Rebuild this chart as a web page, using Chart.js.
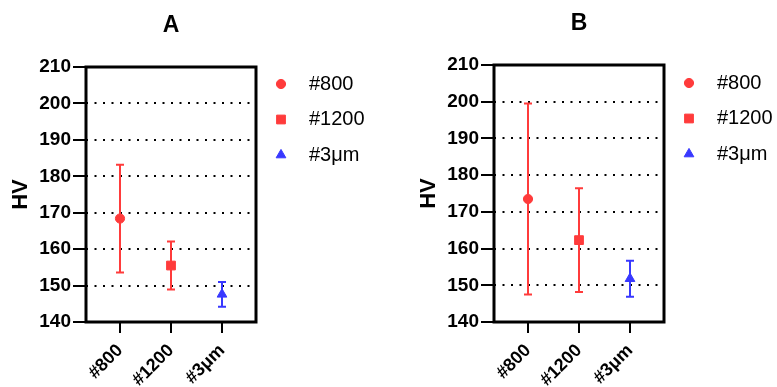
<!DOCTYPE html>
<html lang="en">
<head>
  <meta charset="UTF-8">
  <title>HV</title>
  <script src="https://cdn.jsdelivr.net/npm/chart.js@4.4.0/dist/chart.umd.min.js"></script>
  <style>
    body { margin: 0; background: #fff; }
    .wrap { position: relative; width: 777px; height: 387px; }
    .panel { position: absolute; top: 0; }
  </style>
</head>
<body>
  <div class="wrap">
    <canvas id="chartA" class="panel" width="369" height="387" style="left:0"></canvas>
    <canvas id="chartB" class="panel" width="369" height="387" style="left:408px"></canvas>
  </div>

  <script>
    // data
    const categories = ['#800', '#1200', '#3μm'];
    const yMin = 140;
    const yMax = 210;
    const yStep = 10;

    const meansA = [168.4, 155.5, 147.6];
    const sdA = [14.8, 6.6, 3.4];
    const meansB = [173.5, 162.3, 151.8];
    const sdB = [26.0, 14.1, 4.9];

    const colors = ['#ff3b3b', '#ff3b3b', '#3838ff'];
    const markers = ['circle', 'rect', 'triangle'];
    const markerSize = { circle: 4.6, rect: 6.2, triangle: 5.6 };

    const FONT = "'Liberation Sans', Arial, Helvetica, sans-serif";

    // error bars + frame
    const errorBars = {
      id: 'errorBars',
      beforeDatasetsDraw(chart, args, opts) {
        const { ctx, chartArea, scales } = chart;
        ctx.save();
        ctx.lineWidth = 3;
        ctx.strokeStyle = '#000';
        ctx.strokeRect(chartArea.left, chartArea.top, chartArea.right - chartArea.left, chartArea.bottom - chartArea.top);

        chart.data.datasets.forEach((ds, i) => {
          const pt = chart.getDatasetMeta(i).data[0];
          const x = pt.x;
          const yTop = scales.y.getPixelForValue(ds.data[0].y + ds.sd);
          const yBot = scales.y.getPixelForValue(ds.data[0].y - ds.sd);
          ctx.strokeStyle = ds.backgroundColor;
          ctx.lineWidth = 2;
          ctx.beginPath();
          ctx.moveTo(x, yTop);
          ctx.lineTo(x, yBot);
          ctx.moveTo(x - 4, yTop);
          ctx.lineTo(x + 4, yTop);
          ctx.moveTo(x - 4, yBot);
          ctx.lineTo(x + 4, yBot);
          ctx.stroke();
        });
        ctx.restore();
      }
    };

    // title on top + legend on the right
    const extras = {
      id: 'extras',
      afterDraw(chart, args, opts) {
        const { ctx, chartArea } = chart;
        ctx.save();
        ctx.fillStyle = '#000';
        ctx.font = 'bold 23px ' + FONT;
        ctx.textAlign = 'center';
        ctx.textBaseline = 'middle';
        ctx.fillText(opts.title, (chartArea.left + chartArea.right) / 2, opts.titleY);

        ctx.font = '20px ' + FONT;
        ctx.textAlign = 'left';
        chart.data.datasets.forEach((ds, i) => {
          const y = opts.legendY + i * 35.5;
          ctx.fillStyle = ds.backgroundColor;
          ctx.strokeStyle = ds.backgroundColor;
          Chart.helpers.drawPoint(ctx, {
            pointStyle: ds.pointStyle,
            radius: ds.pointRadius,
            rotation: 0,
            borderWidth: 1
          }, chartArea.right + 25, y);
          ctx.fillStyle = '#000';
          ctx.fillText(ds.label, chartArea.right + 53, y);
        });
        ctx.restore();
      }
    };

    function makeChart(id, title, means, sds, top, titleY, legendY) {
      const datasets = categories.map((c, i) => ({
        label: c,
        data: [{ x: i + 1, y: means[i] }],
        sd: sds[i],
        backgroundColor: colors[i],
        borderColor: colors[i],
        pointStyle: markers[i],
        pointRadius: markerSize[markers[i]],
        pointBorderWidth: 1
      }));

      return new Chart(document.getElementById(id), {
        type: 'scatter',
        data: { datasets: datasets },
        options: {
          responsive: false,
          animation: false,
          layout: { padding: { top: top, right: 113, left: 0, bottom: 0 } },
          plugins: {
            legend: { display: false },
            tooltip: { enabled: false },
            extras: { title: title, titleY: titleY, legendY: legendY }
          },
          scales: {
            x: {
              type: 'linear',
              min: 1 / 3,
              max: 3 + 2 / 3,
              afterFit: s => { s.height = 387 - 322; },
              border: { display: false },
              grid: { drawOnChartArea: false, color: '#000', lineWidth: 2, tickLength: 11 },
              ticks: {
                stepSize: 1,
                includeBounds: false,
                autoSkip: false,
                minRotation: 45,
                maxRotation: 45,
                padding: 7,
                color: '#000',
                font: { family: FONT, size: 18, weight: 'bold' },
                callback: v => categories[v - 1] || ''
              }
            },
            y: {
              min: yMin,
              max: yMax,
              afterFit: s => { s.width = 86; },
              border: { display: false, dash: [2, 6.5] },
              grid: { color: '#000', lineWidth: 2, tickLength: 13, tickBorderDash: [] },
              ticks: {
                stepSize: yStep,
                padding: 2,
                color: '#000',
                font: { family: FONT, size: 19, weight: 'bold' }
              },
              title: {
                display: true,
                text: 'HV',
                color: '#000',
                font: { family: FONT, size: 22, weight: 'bold' },
                padding: { top: 8, bottom: 0 }
              }
            }
          }
        },
        plugins: [errorBars, extras]
      });
    }

    makeChart('chartA', 'A', meansA, sdA, 67, 26, 84);
    makeChart('chartB', 'B', meansB, sdB, 65, 24, 83);
  </script>
</body>
</html>
